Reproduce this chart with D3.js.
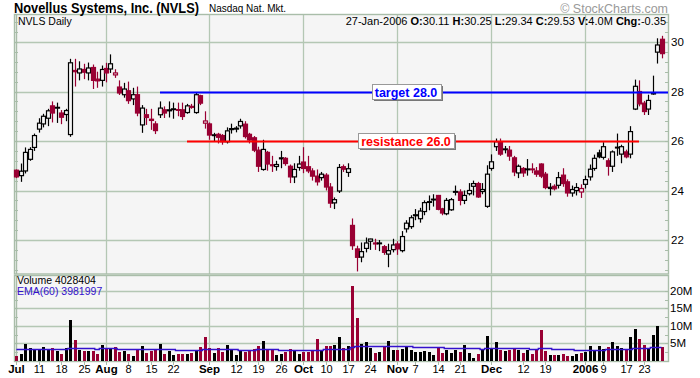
<!DOCTYPE html>
<html><head><meta charset="utf-8">
<script src="https://cdn.jsdelivr.net/npm/d3@7"></script>
<style>
body{margin:0;background:#fff}
svg{display:block}
text{font-family:"Liberation Sans",Arial,Helvetica,sans-serif}
</style>
</head><body>
<svg id="chart" width="700" height="378"></svg>
<script>
// ---------- DATA ----------
const dates = [
"2005-07-01","2005-07-05","2005-07-06","2005-07-07","2005-07-08","2005-07-11","2005-07-12","2005-07-13","2005-07-14","2005-07-15",
"2005-07-18","2005-07-19","2005-07-20","2005-07-21","2005-07-22","2005-07-25","2005-07-26","2005-07-27","2005-07-28","2005-07-29",
"2005-08-01","2005-08-02","2005-08-03","2005-08-04","2005-08-05","2005-08-08","2005-08-09","2005-08-10","2005-08-11","2005-08-12",
"2005-08-15","2005-08-16","2005-08-17","2005-08-18","2005-08-19","2005-08-22","2005-08-23","2005-08-24","2005-08-25","2005-08-26",
"2005-08-29","2005-08-30","2005-08-31","2005-09-01","2005-09-02","2005-09-06","2005-09-07","2005-09-08","2005-09-09","2005-09-12",
"2005-09-13","2005-09-14","2005-09-15","2005-09-16","2005-09-19","2005-09-20","2005-09-21","2005-09-22","2005-09-23","2005-09-26",
"2005-09-27","2005-09-28","2005-09-29","2005-09-30","2005-10-03","2005-10-04","2005-10-05","2005-10-06","2005-10-07","2005-10-10",
"2005-10-11","2005-10-12","2005-10-13","2005-10-14","2005-10-17","2005-10-18","2005-10-19","2005-10-20","2005-10-21","2005-10-24",
"2005-10-25","2005-10-26","2005-10-27","2005-10-28","2005-10-31","2005-11-01","2005-11-02","2005-11-03","2005-11-04","2005-11-07",
"2005-11-08","2005-11-09","2005-11-10","2005-11-11","2005-11-14","2005-11-15","2005-11-16","2005-11-17","2005-11-18","2005-11-21",
"2005-11-22","2005-11-23","2005-11-25","2005-11-28","2005-11-29","2005-11-30","2005-12-01","2005-12-02","2005-12-05","2005-12-06",
"2005-12-07","2005-12-08","2005-12-09","2005-12-12","2005-12-13","2005-12-14","2005-12-15","2005-12-16","2005-12-19","2005-12-20",
"2005-12-21","2005-12-22","2005-12-23","2005-12-27","2005-12-28","2005-12-29","2005-12-30","2006-01-03","2006-01-04","2006-01-05",
"2006-01-06","2006-01-09","2006-01-10","2006-01-11","2006-01-12","2006-01-13","2006-01-17","2006-01-18","2006-01-19","2006-01-20",
"2006-01-23","2006-01-24","2006-01-25","2006-01-26","2006-01-27"];

const opens = [24.82,24.60,24.79,25.26,25.74,26.48,26.69,26.92,27.42,27.33,
27.13,27.07,26.26,28.85,28.75,28.89,28.75,28.97,28.50,28.45,
28.93,28.91,28.67,28.18,27.87,28.03,27.70,27.87,26.65,27.06,
26.88,26.69,27.06,27.26,27.22,27.27,27.27,27.26,27.15,27.40,
27.15,27.83,26.72,26.69,26.22,26.27,26.22,25.97,26.46,26.48,
26.61,26.68,26.27,26.13,25.63,24.85,25.54,25.04,24.97,25.28,
25.30,24.98,24.55,24.93,25.15,24.96,24.79,24.58,24.52,24.62,
24.14,23.50,23.98,24.96,24.73,22.59,21.64,21.31,21.66,21.95,
21.88,21.86,21.73,21.43,21.61,21.84,21.57,22.45,22.54,22.98,
22.86,23.15,23.52,23.62,23.80,23.26,23.06,23.22,23.93,23.94,
23.60,23.87,24.17,24.28,23.96,23.36,24.89,25.77,25.97,25.65,
25.63,25.32,24.71,24.89,24.84,24.87,24.79,25.07,24.66,24.08,
24.17,24.21,24.62,24.35,23.90,24.00,23.94,24.25,24.55,24.89,
25.52,25.34,25.20,24.98,25.72,25.47,25.56,25.47,27.29,28.00,
27.53,27.29,27.90,29.59,30.11];

const highs = [24.85,25.09,25.74,25.75,26.30,26.92,27.10,27.30,27.60,27.55,
27.25,27.30,29.32,29.32,29.22,29.12,29.17,29.09,28.80,29.05,
29.16,29.50,28.90,28.45,28.35,28.40,28.15,28.20,27.45,27.30,
27.30,26.80,27.60,27.40,27.60,27.55,27.55,27.55,27.50,27.50,
27.95,27.87,27.20,26.75,26.33,26.33,26.28,26.55,26.70,26.60,
26.90,26.80,26.33,26.20,25.77,26.05,25.60,25.40,25.20,25.60,
25.35,25.05,25.10,25.40,25.75,25.40,24.90,24.85,24.75,24.70,
24.30,23.72,25.07,25.05,25.10,22.87,21.77,21.90,22.10,22.05,
22.05,22.00,21.80,21.85,22.05,21.95,22.36,22.80,23.00,23.25,
23.30,23.60,23.80,23.85,23.82,23.30,23.70,23.70,24.20,24.05,
24.00,24.30,24.40,24.35,24.30,25.02,25.46,26.10,26.10,25.80,
25.80,25.40,25.05,24.95,25.27,25.10,24.95,25.10,24.75,24.30,
24.25,24.75,24.90,24.45,24.20,24.30,24.25,24.60,25.05,25.45,
25.65,25.95,25.30,25.62,26.30,25.85,25.65,26.60,28.48,28.45,
27.62,27.87,28.64,30.15,30.25];

const lows = [24.50,24.35,24.69,25.20,25.60,26.34,26.55,26.60,26.75,26.73,
26.68,26.80,26.17,28.20,28.45,28.50,28.45,28.10,28.15,28.20,
28.37,28.75,28.55,27.86,27.75,27.50,27.45,27.00,26.33,26.65,
26.45,26.28,26.93,26.93,26.95,26.90,27.00,26.85,27.10,27.30,
27.10,27.45,26.50,26.05,26.00,25.90,25.85,25.90,26.30,26.35,
26.50,26.10,25.90,25.55,24.75,24.80,24.80,24.75,24.80,24.90,
25.00,24.30,24.30,24.80,24.70,24.70,24.40,24.20,24.40,24.00,
23.30,23.25,23.90,24.75,24.55,21.60,20.73,21.10,21.50,21.60,
21.60,21.55,21.40,20.90,21.50,21.40,21.50,22.30,22.45,22.80,
22.70,23.00,23.20,23.35,23.20,23.00,23.00,23.18,23.80,23.40,
23.45,23.80,23.80,23.70,23.85,23.30,24.80,25.60,25.40,25.50,
25.20,24.58,24.50,24.55,24.60,24.70,24.55,24.50,24.05,23.80,
24.00,24.08,24.15,23.75,23.75,23.80,23.70,24.08,24.40,24.80,
25.30,25.25,24.60,24.75,25.40,25.10,25.30,25.30,27.25,27.40,
27.05,27.05,27.87,29.13,29.34];

const closes = [24.55,24.78,25.54,25.66,26.22,26.72,27.00,27.22,27.13,27.36,
26.96,27.23,29.16,28.80,28.91,28.78,28.95,28.45,28.43,28.89,
28.75,29.12,28.75,27.94,28.10,27.63,27.87,27.13,27.33,26.95,
26.83,26.42,27.33,27.13,27.26,27.30,27.25,26.99,27.42,27.36,
27.87,27.53,26.81,26.24,26.25,26.15,25.97,26.41,26.50,26.52,
26.79,26.18,26.04,25.63,24.98,25.66,25.07,25.00,25.05,25.32,
25.09,24.55,24.85,25.07,24.89,24.79,24.58,24.35,24.66,24.14,
23.49,23.63,24.93,24.86,24.88,21.77,21.30,21.53,21.88,22.04,
21.84,21.88,21.50,21.57,21.80,21.64,22.14,22.68,22.90,23.02,
23.17,23.51,23.55,23.65,23.24,23.09,23.60,23.63,23.96,23.60,
23.80,24.00,24.28,23.74,24.04,24.66,25.16,25.97,25.47,25.68,
25.39,24.75,24.98,24.71,24.87,24.85,24.66,24.58,24.12,24.13,
24.07,24.52,24.28,23.90,24.04,24.12,24.08,24.44,24.86,25.30,
25.36,25.77,24.98,25.56,25.75,25.77,25.36,26.38,28.21,27.50,
27.19,27.64,27.95,29.88,29.53];

// volume in millions of shares
const volumes = [1.4,2.0,4.9,3.6,3.3,3.3,3.9,3.3,3.6,2.9,
2.0,3.6,11.7,6.0,3.1,2.9,2.9,2.9,2.0,4.6,
3.3,3.3,3.9,2.7,2.9,2.0,1.4,3.3,4.3,2.4,
2.9,3.3,4.9,2.0,2.9,1.7,2.0,2.0,2.0,2.4,
3.1,4.0,6.7,3.8,2.4,3.8,2.7,4.6,3.3,1.7,
3.0,2.7,3.1,3.3,4.3,5.7,3.3,3.3,1.7,2.0,
2.7,3.3,3.0,2.0,2.7,2.7,3.0,6.2,3.0,4.3,
4.3,4.6,6.7,3.6,4.3,21.4,12.2,4.9,5.4,3.6,
2.4,2.7,4.1,5.7,3.1,3.1,3.5,4.1,3.0,2.7,
2.7,2.9,2.7,1.7,4.0,2.4,3.1,2.4,3.1,2.7,
4.6,2.4,0.8,2.0,3.0,7.1,3.6,5.4,3.1,2.9,
3.1,3.5,3.1,2.4,3.1,2.0,3.1,8.9,2.9,1.7,
1.7,1.7,2.0,1.4,1.4,2.0,2.4,2.7,4.3,3.0,
4.3,3.3,4.1,5.4,4.3,3.6,3.3,6.8,9.1,6.2,
4.6,3.3,7.4,10.0,4.03];

const prevClose = 24.90;      // close before first bar
const emaSeed = 3.45;         // EMA(60) value entering the window (M)

const tickDates = ["2005-07-01","2005-07-11","2005-07-18","2005-07-25","2005-08-01","2005-08-08","2005-08-15","2005-08-22",
"2005-09-01","2005-09-12","2005-09-19","2005-09-26","2005-10-03","2005-10-10","2005-10-17","2005-10-24",
"2005-11-01","2005-11-07","2005-11-14","2005-11-21","2005-12-01","2005-12-12","2005-12-19",
"2006-01-03","2006-01-09","2006-01-17","2006-01-23"];
const tickLabels = ["Jul","11","18","25","Aug","8","15","22","Sep","12","19","26","Oct","10","17","24",
"Nov","7","14","21","Dec","12","19","2006","9","17","23"];
const monthStarts = ["2005-08-01","2005-09-01","2005-10-03","2005-11-01","2005-12-01","2006-01-03"];

const priceTicks = [22,24,26,28,30];
const volumeTicks = [5,10,15,20];
const volumeTickLabels = ["5M","10M","15M","20M"];

const lineLabels = ["target 28.0","resistance 26.0"];
const lineValues = [28.0, 26.0];
const lineStarts = ["2005-08-17","2005-08-25"];
const lineEnds = [null,"2006-01-20"];
const lineLabelAt = "2005-11-03";

const titleText = "Novellus Systems, Inc. (NVLS)";
const exchangeText = "Nasdaq Nat. Mkt.";
const infoParts = [["","27-Jan-2006 "],["O:","30.11 "],["H:","30.25 "],["L:","29.34 "],["C:","29.53 "],["V:","4.0M "],["Chg:","-0.35"]];
const volumeText = "Volume 4028404";
const emaText = "EMA(60) 3981997";

// ---------- LAYOUT ----------
const svg = d3.select("#chart");
const L = 15, R = 668, PT = 15, PB = 274, VT = 276, VB = 361;
const RED = "#990033", GRID = "#b4c7b4", FRAME = "#a9bda9", BG = "#f5f5f5";

const x = d3.scalePoint().domain(dates).range([16.4, 661.5]);
const y = d3.scaleLinear().domain([22, 30]).range([240, 42]);
const v = d3.scaleLinear().domain([0, 20]).range([VB, 290.8]);
const px = d => Math.round(x(d));
const snap = n => Math.round(n) + 0.5;

// panels background
svg.append("rect").attr("x", L).attr("y", PT).attr("width", R - L).attr("height", PB - PT).attr("fill", BG);
svg.append("rect").attr("x", L).attr("y", VT).attr("width", R - L).attr("height", VB - VT).attr("fill", BG);

// grid
const grid = svg.append("g").attr("stroke", GRID).attr("stroke-width", 1.3);
priceTicks.forEach(t => grid.append("line").attr("x1", L).attr("x2", R).attr("y1", snap(y(t))).attr("y2", snap(y(t))));
volumeTicks.forEach(t => grid.append("line").attr("x1", L).attr("x2", R).attr("y1", snap(v(t))).attr("y2", snap(v(t))));
monthStarts.forEach(d => {
  grid.append("line").attr("x1", px(d) + 0.5).attr("x2", px(d) + 0.5).attr("y1", PT).attr("y2", PB);
  grid.append("line").attr("x1", px(d) + 0.5).attr("x2", px(d) + 0.5).attr("y1", VT).attr("y2", VB);
});

// minor ticks
const ticks = svg.append("g").attr("stroke", FRAME).attr("stroke-width", 1);
d3.range(-3, 24).map(k => 22 + k * 0.4).filter(p => y(p) > PT + 2 && y(p) < PB - 2).forEach(p => {
  const yy = snap(y(p));
  ticks.append("line").attr("x1", L).attr("x2", L + 3).attr("y1", yy).attr("y2", yy);
  ticks.append("line").attr("x1", R - 3).attr("x2", R).attr("y1", yy).attr("y2", yy);
});
d3.range(1, 9).map(k => k * 2.5).filter(t => v(t) > VT + 2).forEach(t => {
  const yy = snap(v(t));
  ticks.append("line").attr("x1", L).attr("x2", L + 3).attr("y1", yy).attr("y2", yy);
  ticks.append("line").attr("x1", R - 3).attr("x2", R).attr("y1", yy).attr("y2", yy);
});

// frames
const fr = svg.append("g").attr("fill", "none").attr("stroke", FRAME).attr("stroke-width", 1.4);
fr.append("rect").attr("x", L - 0.5).attr("y", PT - 0.5).attr("width", R - L + 1).attr("height", PB - PT + 0.5);
fr.append("rect").attr("x", L - 0.5).attr("y", VT - 0.5).attr("width", R - L + 1).attr("height", VB - VT + 1);
fr.append("line").attr("x1", L + 1.5).attr("x2", L + 1.5).attr("y1", PT).attr("y2", PB);
fr.append("line").attr("x1", L + 1.5).attr("x2", L + 1.5).attr("y1", VT).attr("y2", VB);

// bars: colour from close vs previous close, fill from close vs open
const bars = dates.map((d, i) => {
  const pc = i === 0 ? prevClose : closes[i - 1];
  return {d, o: opens[i], h: highs[i], l: lows[i], c: closes[i], vol: volumes[i],
          col: closes[i] < pc ? RED : "#000", filled: closes[i] < opens[i]};
});

// volume bars
svg.append("g").selectAll("rect").data(bars).join("rect")
  .attr("x", b => px(b.d) - 1).attr("width", 3)
  .attr("y", b => Math.round(v(b.vol))).attr("height", b => VB - Math.round(v(b.vol)))
  .attr("fill", b => b.col);

// EMA(60) of volume
const alpha = 2 / 61;
let e = emaSeed;
const ema = volumes.map(val => (e = e + alpha * (val - e)));
svg.append("path").datum(ema)
  .attr("d", d3.line().x((val, i) => x(dates[i])).y(val => Math.round(v(val)) + 0.5).curve(d3.curveStep))
  .attr("fill", "none").attr("stroke", "#3311cc").attr("stroke-width", 1.3);

// candles
const cg = svg.append("g");
bars.forEach(b => {
  const cx = px(b.d) + 0.5;
  cg.append("line").attr("x1", cx).attr("x2", cx).attr("y1", y(b.h)).attr("y2", y(b.l))
    .attr("stroke", b.col).attr("stroke-width", 1.2);
  const top = y(Math.max(b.o, b.c)), bot = y(Math.min(b.o, b.c));
  cg.append("rect").attr("x", cx - 2).attr("width", 4)
    .attr("y", top).attr("height", Math.max(bot - top, 0.8))
    .attr("fill", b.filled ? b.col : BG).attr("stroke", b.col).attr("stroke-width", 1.2);
});

// horizontal annotation lines
const lineColors = ["#0000ff", "#ff0000"];
lineValues.forEach((val, i) => {
  const x1 = px(lineStarts[i]);
  const x2 = lineEnds[i] ? px(lineEnds[i]) : R;
  svg.append("line").attr("x1", x1).attr("x2", x2).attr("y1", Math.round(y(val)) + 0.5).attr("y2", Math.round(y(val)) + 0.5)
    .attr("stroke", lineColors[i]).attr("stroke-width", 2.2);
});
lineValues.forEach((val, i) => {
  const cx = px(lineLabelAt), cy = Math.round(y(val));
  const g = svg.append("g");
  const t = g.append("text").attr("x", cx).attr("y", cy + 4.5).attr("text-anchor", "middle")
    .attr("font-size", 12.5).attr("font-weight", "bold").attr("fill", lineColors[i]).text(lineLabels[i]);
  const bb = t.node().getBBox();
  const bx = Math.round(bb.x - 3) + 0.5, bw = Math.round(bb.width + 6), by = cy - 7.5, bh = 15;
  g.insert("rect", "text").attr("x", bx + 1.5).attr("y", by + 1.5).attr("width", bw).attr("height", bh).attr("fill", "#777");
  g.insert("rect", "text").attr("x", bx).attr("y", by).attr("width", bw).attr("height", bh)
    .attr("fill", "#fff").attr("stroke", "#999").attr("stroke-width", 1);
});

// right axis labels
svg.append("g").selectAll("text").data(priceTicks).join("text")
  .attr("x", 671).attr("y", t => y(t) + 4).attr("font-size", 11.5).attr("fill", "#000").text(t => t);
svg.append("g").selectAll("text").data(volumeTicks).join("text")
  .attr("x", 670).attr("y", t => v(t) + 4).attr("font-size", 11.5).attr("fill", "#000").text((t, i) => volumeTickLabels[i]);

// bottom axis
const xa = svg.append("g");
tickDates.forEach((d, i) => {
  const cx = px(d) + 0.5;
  xa.append("line").attr("x1", cx).attr("x2", cx).attr("y1", VB).attr("y2", VB + 4).attr("stroke", FRAME);
  const isMonth = isNaN(+tickLabels[i]) || tickLabels[i].length === 4;
  xa.append("text").attr("x", cx).attr("y", 373).attr("text-anchor", "middle")
    .attr("font-size", isMonth ? 11.5 : 11).attr("font-weight", isMonth ? "bold" : "normal").text(tickLabels[i]);
});

// header texts
svg.append("text").attr("x", 14).attr("y", 13).attr("font-size", 14).attr("font-weight", "bold")
  .attr("textLength", 185).attr("lengthAdjust", "spacingAndGlyphs").text(titleText);
svg.append("text").attr("x", 209).attr("y", 11.5).attr("font-size", 10)
  .attr("textLength", 77).attr("lengthAdjust", "spacingAndGlyphs").text(exchangeText);
svg.append("text").attr("x", 668).attr("y", 12.5).attr("text-anchor", "end").attr("font-size", 12.5).attr("fill", "#9a9a9a").text("© StockCharts.com");
svg.append("text").attr("x", 18).attr("y", 25).attr("font-size", 10.5).text("NVLS Daily");
const info = svg.append("text").attr("x", 666).attr("y", 25).attr("text-anchor", "end").attr("font-size", 11);
infoParts.forEach(p => {
  if (p[0]) info.append("tspan").attr("font-weight", "bold").text(p[0]);
  info.append("tspan").text(p[1]);
});
svg.append("text").attr("x", 17).attr("y", 284).attr("font-size", 10.5).text(volumeText);
svg.append("text").attr("x", 17).attr("y", 294.5).attr("font-size", 10.5).attr("fill", "#3311cc").text(emaText);
</script>
</body></html>
